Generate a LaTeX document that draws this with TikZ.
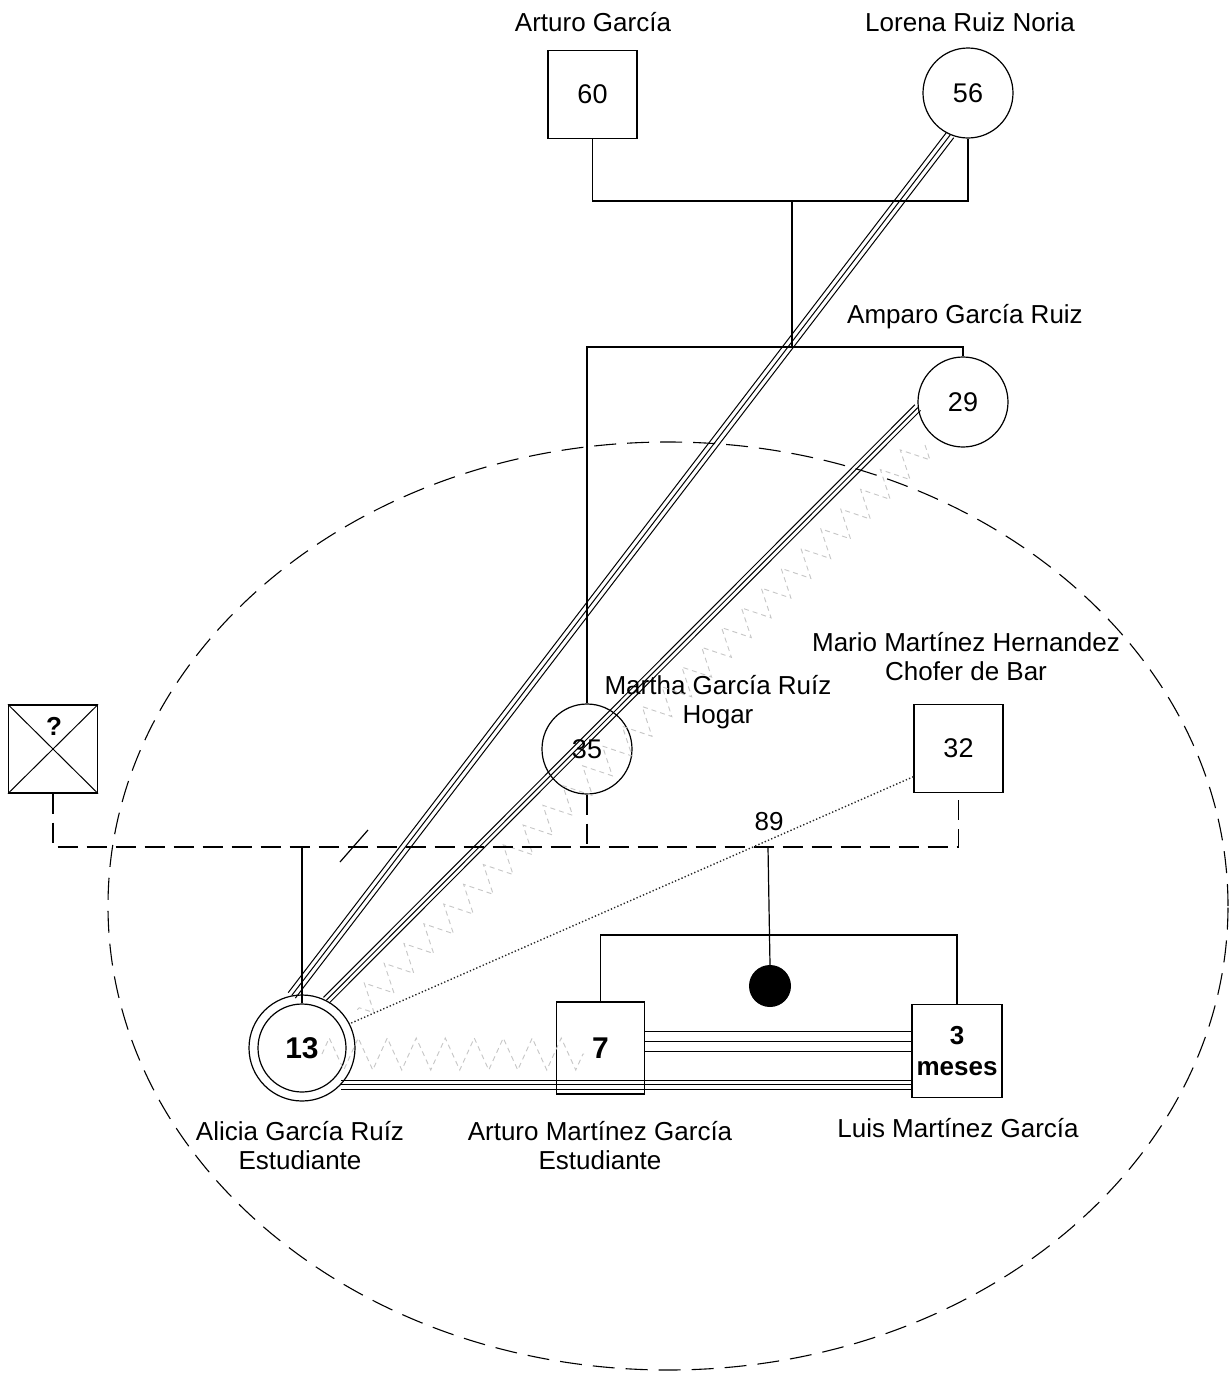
\documentclass[tikz,border=0pt]{standalone}
\usepackage{fontspec}
\setmainfont{Liberation Sans}
\usetikzlibrary{calc,decorations.pathmorphing}
\newcommand{\tripline}[3]{%
  \draw[rel] (#2) -- (#3);
  \draw[rel] ($(#2)!#1!90:(#3)$) -- ($(#3)!#1!-90:(#2)$);
  \draw[rel] ($(#2)!#1!-90:(#3)$) -- ($(#3)!#1!90:(#2)$);}
\begin{document}
\begin{tikzpicture}[x=1pt,y=-1pt,
  every node/.style={font=\fontsize{26}{29}\selectfont, inner sep=0pt},
  lbl/.style={align=center},
  person/.style={draw, line width=1.2pt, font=\fontsize{27}{30}\selectfont},
  male/.style={person, rectangle, minimum width=89pt, minimum height=88pt},
  female/.style={person, circle, minimum size=90pt},
  link/.style={line width=1.2pt},
  mar/.style={line width=1.2pt, dash pattern=on 20pt off 9pt},
  rel/.style={line width=1pt},
  dotline/.style={line width=1.4pt, black!85, dash pattern=on 1.3pt off 2.2pt},
  hostile/.style={gray!45, line width=0.9pt, dash pattern=on 5pt off 4pt,
    decorate, decoration={zigzag, segment length=28pt, amplitude=14pt}},
  circdash/.style={line width=1.1pt, dash pattern=on 22pt off 11pt}
]
\useasboundingbox (0,0) rectangle (1230,1377);
\fill[white] (0,0) rectangle (1230,1377);

% surrounding dashed ellipse
\draw[circdash] (668,906) ellipse [x radius=560pt, y radius=464pt];

% persons
\node[male] (n60) at (592.5,94.5) {60};
\node[female] (n56) at (968,93) {56};
\node[lbl] (t60) at (593,22) {Arturo García};
\node[lbl] (t56) at (970,22) {Lorena Ruiz Noria};
\node[female] (n29) at (963,402) {29};
\node[lbl] (t29) at (965,317) {Amparo García Ruiz};
\node[female] (n35) at (587,749) {35};
\node[lbl] (t35) at (718,702) {Martha García Ruíz\\Hogar};
\node[male] (nq) at (53,749) {};
\node[font=\bfseries\fontsize{26}{29}\selectfont] (tq) at (54,726) {?};
\node[male] (n32) at (958.5,748.5) {32};
\node[lbl] (t32) at (966,657) {Mario Martínez Hernandez\\Chofer de Bar};
\node (t89) at (769,822) {89};
\node[female, minimum size=88pt, font=\bfseries\fontsize{30}{32}\selectfont] (n13) at (302,1048) {13};
\node[female, minimum size=106pt] (n13o) at (302,1048) {};
\node[male, minimum width=88pt, minimum height=92pt, font=\bfseries\fontsize{30}{32}\selectfont] (n7) at (600.5,1048) {7};
\node[male, minimum width=90pt, minimum height=93pt, align=center, font=\bfseries\fontsize{26}{31}\selectfont] (n3) at (957,1051) {3\\meses};
\node[circle, fill=black, minimum size=42pt] (ndot) at (770,986) {};
\node[lbl] (t13) at (300,1146) {Alicia García Ruíz\\Estudiante};
\node[lbl] (t7) at (600,1146) {Arturo Martínez García\\Estudiante};
\node[lbl] (t3) at (958,1128) {Luis Martínez García};

% hostile zigzags
\coordinate (zA) at (322,1054);
\coordinate (zB) at (584,1054);
\draw[hostile, decoration={zigzag, segment length=29pt, amplitude=16pt}] (zA) -- (zB);
\coordinate (zC) at (925,445);
\coordinate (zD) at (355,1012);
\draw[hostile] (zC) -- (zD);

% genealogy lines
\coordinate (cp1) at (792,201);
\coordinate (cs1) at (792,347);
\coordinate (cm) at (768,847);
\coordinate (cs2) at (768,935);
\draw[link] (n60.south) |- (cp1) -| (n56.south);
\draw[link] (cp1) -- (cs1);
\draw[link] (n35.north) |- (cs1) -| (n29.north);
\draw[mar] (nq.south) |- (cm) -| (n32.south);
\draw[mar] (n35.south) -- (n35.south |- cm);
\draw[link] (n13.north) -- (n13.north |- cm);
\draw[link] (cm) -- (ndot.north);
\draw[link] (n7.north) |- (cs2) -| (n3.north);
\coordinate (sa) at (340,862);
\coordinate (sb) at (368,830);
\draw[link] (sa) -- (sb);
\draw[line width=1pt] (nq.north west) -- (nq.south east) (nq.north east) -- (nq.south west);

% relationship lines
\draw[dotline] (n32.212) -- (n13o.27);
\tripline{4.5pt}{n56.247}{n13o.101}
\tripline{4pt}{n29.187}{n13o.63}
\coordinate (b1) at (n13o.-43);
\coordinate (b2) at (b1 -| n3.west);
\tripline{4.5pt}{b1}{b2}
\coordinate (m1) at ([yshift=7pt]n7.east);
\coordinate (m2) at (m1 -| n3.west);
\tripline{10pt}{m1}{m2}
\end{tikzpicture}
\end{document}
